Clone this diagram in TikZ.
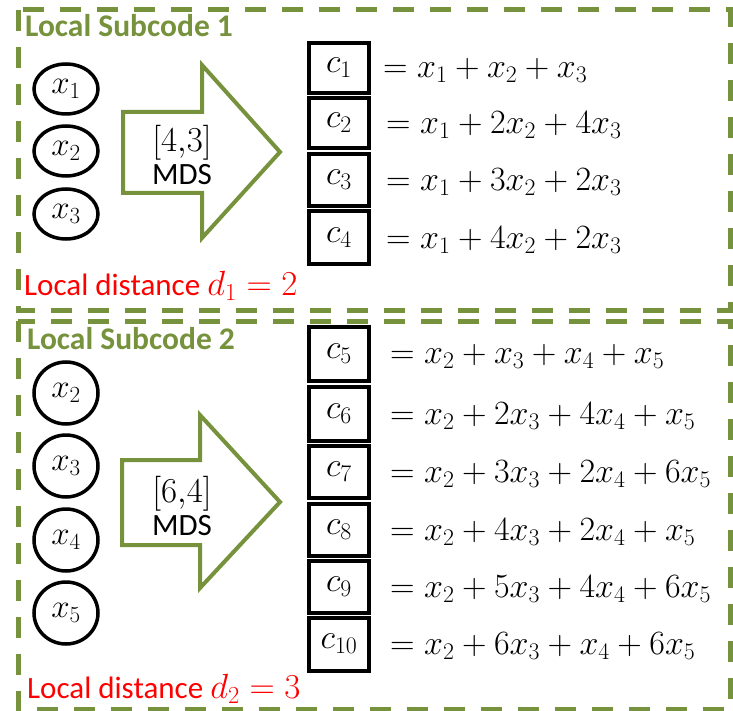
\RequirePackage{fix-cm}
\documentclass[tikz,border=0pt]{standalone}
\usepackage{fontspec}
\setmainfont{Carlito}
\usetikzlibrary{shapes.geometric}
\definecolor{olive}{RGB}{118,146,60}
\definecolor{redtxt}{RGB}{255,0,0}
\newcommand{\bigmath}[1]{{\fontsize{35}{36}\selectfont$#1$}}
\tikzset{
  subbox/.style={draw=olive, line width=5pt, dash pattern=on 21pt off 16pt},
  xvar/.style={draw=black, line width=3.5pt, ellipse, minimum width=64pt, inner sep=0pt, font=\fontsize{33}{34}\selectfont},
  cbox/.style={draw=black, line width=4pt, rectangle, minimum width=60pt, inner sep=0pt, font=\fontsize{34}{34}\selectfont},
  eqn/.style={anchor=west, inner sep=0pt, font=\fontsize{34}{34}\selectfont},
  title/.style={anchor=base west, inner sep=0pt, text=olive, font=\fontsize{31.5}{36}\selectfont\bfseries},
  dist/.style={anchor=base west, inner sep=0pt, text=redtxt, font=\fontsize{31}{34}\selectfont},
  bigarrow/.style={draw=olive, line width=4pt, fill=white, line join=miter},
  arrtxt/.style={inner sep=0pt, font=\fontsize{31}{34}\selectfont, align=center}
}
\begin{document}
\begin{tikzpicture}[x=1pt,y=-1pt]
\useasboundingbox (0,0) rectangle (733,711);
% boxes
\draw[subbox] (18,10) rectangle (730,310);
\draw[subbox] (18,321) rectangle (730,709);
\node[title] (t1) at (25,37) {Local Subcode 1};
\node[title] (t2) at (27,349) {Local Subcode 2};
% ---- subcode 1
\node[xvar, minimum height=50pt] (a1) at (66,89) {$x_1$};
\node[xvar, minimum height=50pt] (a2) at (66,151) {$x_2$};
\node[xvar, minimum height=50pt] (a3) at (66,214) {$x_3$};
\draw[bigarrow] (123,112) -- (202,112) -- (202,65) -- (280,152) -- (202,238) -- (202,193) -- (123,193) -- cycle;
\node[arrtxt] (m1) at (182,155) {\bigmath{[4{,}3]}\\[-1pt]MDS};
\node[cbox, minimum height=50pt] (c1) at (339,68) {$c_1$};
\node[cbox, minimum height=50pt] (c2) at (339,123) {$c_2$};
\node[cbox, minimum height=52pt] (c3) at (339,180) {$c_3$};
\node[cbox, minimum height=53pt] (c4) at (339,238) {$c_4$};
\node[eqn] (e1) at (383,70) {$= x_1 + x_2 + x_3$};
\node[eqn] (e2) at (386,125) {$= x_1 + 2x_2 + 4x_3$};
\node[eqn] (e3) at (386,182) {$= x_1 + 3x_2 + 2x_3$};
\node[eqn] (e4) at (386,240) {$= x_1 + 4x_2 + 2x_3$};
\node[dist] (d1) at (24,295) {Local distance \bigmath{d_1 = 2}};
% ---- subcode 2
\node[xvar, minimum height=62pt] (b2) at (66,393) {$x_2$};
\node[xvar, minimum height=62pt] (b3) at (66,466) {$x_3$};
\node[xvar, minimum height=62pt] (b4) at (66,540) {$x_4$};
\node[xvar, minimum height=62pt] (b5) at (66,613) {$x_5$};
\draw[bigarrow] (122,460) -- (200,460) -- (200,415) -- (280,502) -- (200,588) -- (200,545) -- (122,545) -- cycle;
\node[arrtxt] (m2) at (182,506) {\bigmath{[6{,}4]}\\[-1pt]MDS};
\node[cbox, minimum height=54pt] (c5) at (339,354) {$c_5$};
\node[cbox, minimum height=54pt] (c6) at (339,414) {$c_6$};
\node[cbox, minimum height=52pt] (c7) at (339,472) {$c_7$};
\node[cbox, minimum height=52pt] (c8) at (339,530) {$c_8$};
\node[cbox, minimum height=52pt] (c9) at (339,587) {$c_9$};
\node[cbox, minimum height=53pt] (c10) at (339,644) {$c_{10}$};
\node[eqn] (e5) at (390,356) {$= x_2 + x_3 + x_4 + x_5$};
\node[eqn] (e6) at (390,416) {$= x_2 + 2x_3 + 4x_4 + x_5$};
\node[eqn] (e7) at (390,474) {$= x_2 + 3x_3 + 2x_4 + 6x_5$};
\node[eqn] (e8) at (390,532) {$= x_2 + 4x_3 + 2x_4 + x_5$};
\node[eqn] (e9) at (390,589) {$= x_2 + 5x_3 + 4x_4 + 6x_5$};
\node[eqn] (e10) at (390,646) {$= x_2 + 6x_3 + x_4 + 6x_5$};
\node[dist] (d2) at (27,698) {Local distance \bigmath{d_2 = 3}};
\end{tikzpicture}
\end{document}
